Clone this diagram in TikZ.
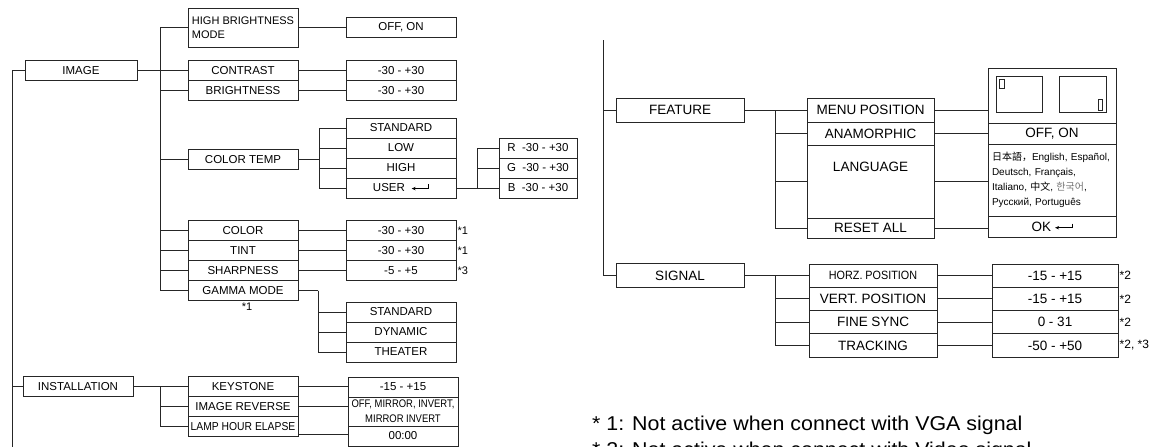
\documentclass[tikz,border=0pt]{standalone}
\usepackage{fontspec}
\setmainfont{Liberation Sans}
\newfontfamily\cjkfont{Noto Sans CJK SC}
\newfontfamily\korfont{Noto Sans CJK KR}
\usetikzlibrary{arrows.meta,positioning,calc}

\newcommand{\enterkey}{\tikz[baseline=0pt]\draw[line width=0.7pt,-{Stealth[length=4pt,width=3.5pt]}] (17pt,7.5pt) -- (17pt,3.4pt) -- (0pt,3.4pt);}

\begin{document}
\begin{tikzpicture}[x=1pt,y=-1pt,
    link/.style={draw=black!85,line width=0.75pt},
    menubox/.style={draw=black!85,line width=0.75pt,minimum width=110pt,minimum height=20pt,
      inner sep=0pt,outer sep=0pt,font=\fontsize{11.5}{13.5}\selectfont},
    rgbbox/.style={menubox,minimum width=78pt},
    topbox/.style={menubox,minimum width=128pt,minimum height=24pt,font=\fontsize{13.5}{15}\selectfont},
    featbox/.style={topbox,minimum width=127pt},
    sigbox/.style={topbox,minimum height=23.25pt},
    sigval/.style={sigbox,minimum width=126pt},
    note/.style={anchor=west,inner sep=1.5pt,font=\fontsize{11}{13}\selectfont},
    footnote/.style={anchor=base west,inner sep=0pt,font=\fontsize{20}{24}\selectfont}]
  \useasboundingbox (0,0) rectangle (1157,447);
  \clip (0,0) rectangle (1157,447);

  % IMAGE menu
  \coordinate (leftend) at (12,448);
  \node[menubox,minimum width=112pt] (image) at (81,70.5) {IMAGE};
  \node[menubox,minimum height=39pt,align=left,font=\fontsize{11}{13.5}\selectfont] (hbm) at (243,27.5) {HIGH BRIGHTNESS\\MODE};
  \node[menubox] (contrast) at (243,70.5) {CONTRAST};
  \node[menubox,below=0pt of contrast] (bright) {BRIGHTNESS};
  \node[menubox] (ctemp) at (243,159.5) {COLOR TEMP};
  \node[menubox] (color) at (243,230.5) {COLOR};
  \node[menubox,below=0pt of color] (tint) {TINT};
  \node[menubox,below=0pt of tint] (sharp) {SHARPNESS};
  \node[menubox,below=0pt of sharp] (gamma) {GAMMA MODE};
  \node[note,anchor=center] (gammanote) at (247,307) {*1};

  % values of IMAGE
  \node[menubox] (offon) at (401,27.5) {OFF, ON};
  \node[menubox] (contrastval) at (401,70.5) {-30 - +30};
  \node[menubox,below=0pt of contrastval] (brightval) {-30 - +30};
  \node[menubox] (ctstd) at (401,128) {STANDARD};
  \node[menubox,below=0pt of ctstd] (ctlow) {LOW};
  \node[menubox,below=0pt of ctlow] (cthigh) {HIGH};
  \node[menubox,below=0pt of cthigh] (ctuser) {USER\ \ \enterkey};
  \node[rgbbox] (ctr) at (538,148) {R~~-30 - +30};
  \node[rgbbox,below=0pt of ctr] (ctg) {G~~-30 - +30};
  \node[rgbbox,below=0pt of ctg] (ctb) {B~~-30 - +30};
  \node[menubox] (colorval) at (401,230.5) {-30 - +30};
  \node[menubox,below=0pt of colorval] (tintval) {-30 - +30};
  \node[menubox,below=0pt of tintval] (sharpval) {-5 - +5};
  \node[note] (colornote) at (colorval.east) {*1};
  \node[note] (tintnote) at (tintval.east) {*1};
  \node[note] (sharpnote) at (sharpval.east) {*3};
  \node[menubox] (gstd) at (401,312) {STANDARD};
  \node[menubox,below=0pt of gstd] (gdyn) {DYNAMIC};
  \node[menubox,below=0pt of gdyn] (gthe) {THEATER};

  % INSTALLATION menu
  \node[menubox] (install) at (78,386.5) {INSTALLATION};
  \node[menubox] (keystone) at (243,386.5) {KEYSTONE};
  \node[menubox,below=0pt of keystone] (reverse) {IMAGE REVERSE};
  \node[menubox,below=0pt of reverse] (lamp) {\scalebox{0.9}[1]{LAMP HOUR ELAPSE}};
  \node[menubox] (keyval) at (403,387) {-15 - +15};
  \node[menubox,minimum height=29pt,below=0pt of keyval,align=center,font=\fontsize{11}{15}\selectfont] (revval)
    {\scalebox{0.86}[1]{OFF, MIRROR, INVERT,}\\\scalebox{0.86}[1]{MIRROR INVERT}};
  \node[menubox,below=0pt of revval] (clock) {00:00};

  % connectors, left half
  \coordinate (imgtrunk) at (160,70.5);
  \coordinate (cttrunk) at (319,159.5);
  \coordinate (usertrunk) at (477,188);
  \coordinate (gtrunk) at (318,290.5);
  \coordinate (insttrunk) at (160,386.5);
  \draw[link] (image.west) -| (leftend);
  \draw[link] (install.west) -- (install.west -| leftend);
  \draw[link] (image.east) -- (contrast.west);
  \foreach \n in {hbm,bright,ctemp,color,tint,sharp,gamma}
    \draw[link] (imgtrunk) |- (\n.west);
  \foreach \a/\b in {hbm/offon,contrast/contrastval,bright/brightval,color/colorval,tint/tintval,sharp/sharpval,keystone/keyval,reverse/revval}
    \draw[link] (\a.east) -- (\b.west |- \a.east);
  \draw[link] (ctemp.east) -- (cttrunk);
  \foreach \n in {ctstd,ctlow,cthigh,ctuser}
    \draw[link] (cttrunk) |- (\n.west);
  \draw[link] (ctuser.east) -- (usertrunk);
  \foreach \n in {ctr,ctg,ctb}
    \draw[link] (usertrunk) |- (\n.west);
  \draw[link] (gamma.east) -- (gtrunk);
  \foreach \n in {gstd,gdyn,gthe}
    \draw[link] (gtrunk) |- (\n.west);
  \draw[link] (install.east) -- (keystone.west);
  \foreach \n in {reverse,lamp}
    \draw[link] (insttrunk) |- (\n.west);
  \coordinate (lampout) at ($(lamp.east)!0.75!(lamp.south east)$);
  \draw[link] (lampout) -- (lampout -| clock.west);

  % FEATURE menu
  \coordinate (righttop) at (603,40);
  \node[topbox] (feature) at (680,110) {FEATURE};
  \node[topbox] (signal) at (680,275.6) {SIGNAL};
  \node[featbox,minimum height=24pt] (menupos) at (870.5,110) {MENU POSITION};
  \node[featbox,minimum height=23pt,below=0pt of menupos] (anamorph) {ANAMORPHIC};
  \node[featbox,minimum height=73pt,below=0pt of anamorph,
    label={[anchor=center,yshift=-21.5pt,font=\fontsize{13.5}{15}\selectfont]north:LANGUAGE}] (language) {};
  \node[featbox,minimum height=20pt,below=0pt of language] (reset) {RESET ALL};
  \node[topbox,minimum height=55pt] (menuval) at (1052,95.5) {};
  \node[topbox,minimum height=21pt,below=0pt of menuval] (anaval) {OFF, ON};
  \node[topbox,minimum height=72pt,below=0pt of anaval,text width=120pt,align=left,font=\fontsize{10}{15}\selectfont] (langval)
    {{\cjkfont 日本語，}English, Español,\\Deutsch, Français,\\Italiano, {\cjkfont 中文}, {\korfont\color{black!55}한국어},\\Русский, Português};
  \node[topbox,minimum height=21pt,below=0pt of langval] (resetval) {OK\ \enterkey};
  % menu position screens
  \draw[link] (996,76) rectangle (1042,112);
  \draw[link] (999,79) rectangle (1004,88);
  \draw[link] (1059,76) rectangle (1106,112);
  \draw[link] (1098,99) rectangle (1102,110);

  % SIGNAL menu
  \node[sigbox] (horz) at (873,275.6) {\fontsize{12}{14}\selectfont\scalebox{0.9}[1]{HORZ. POSITION}};
  \node[sigbox,below=0pt of horz] (vert) {VERT. POSITION};
  \node[sigbox,below=0pt of vert] (fine) {FINE SYNC};
  \node[sigbox,below=0pt of fine] (track) {TRACKING};
  \node[sigval] (horzval) at (1055,275.6) {-15 - +15};
  \node[sigval,below=0pt of horzval] (vertval) {-15 - +15};
  \node[sigval,below=0pt of vertval] (fineval) {0 - 31};
  \node[sigval,below=0pt of fineval] (trackval) {-50 - +50};
  \node[note,font=\fontsize{12}{14}\selectfont] (horznote) at (horzval.east) {*2};
  \node[note,font=\fontsize{12}{14}\selectfont] (vertnote) at (vertval.east) {*2};
  \node[note,font=\fontsize{12}{14}\selectfont] (finenote) at (fineval.east) {*2};
  \node[note,font=\fontsize{12}{14}\selectfont] (tracknote) at (trackval.east) {*2, *3};

  % connectors, right half
  \coordinate (feattrunk) at (775,110);
  \coordinate (sigtrunk) at (775,275.6);
  \draw[link] (righttop) |- (feature.west);
  \draw[link] (righttop) |- (signal.west);
  \draw[link] (feature.east) -- (menupos.west);
  \foreach \n in {anamorph,language,reset}
    \draw[link] (feattrunk) |- (\n.west);
  \draw[link] (signal.east) -- (horz.west);
  \foreach \n in {vert,fine,track}
    \draw[link] (sigtrunk) |- (\n.west);
  \foreach \a/\b in {menupos/menuval,anamorph/anaval,language/langval,reset/resetval,horz/horzval,vert/vertval,fine/fineval,track/trackval}
    \draw[link] (\a.east) -- (\b.west |- \a.east);

  % footnotes
  \node[footnote] (note1) at (592,430) {\scalebox{1.07}[1]{* 1: Not active when connect with VGA signal}};
  \node[footnote] (note2) at (592,456) {\scalebox{1.07}[1]{* 2: Not active when connect with Video signal}};
\end{tikzpicture}
\end{document}
